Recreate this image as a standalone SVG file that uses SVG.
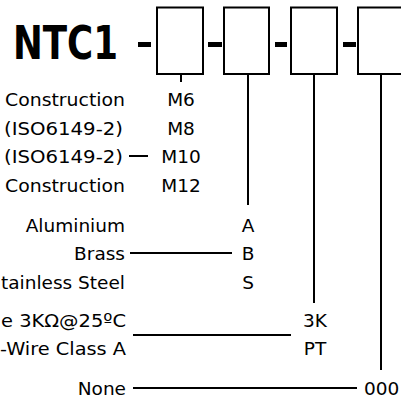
<svg xmlns="http://www.w3.org/2000/svg" width="401" height="403" viewBox="0 0 401 403">
<style>
.lbl{font-family:"DejaVu Sans","Verdana",sans-serif;font-size:18.5px;fill:#000}
.r{text-anchor:end}
.c{text-anchor:middle}
.box{fill:#fff;stroke:#000;stroke-width:2}
.ln{stroke:#000;stroke-width:2;fill:none}
</style>
<rect width="401" height="403" fill="#fff"/>
<g id="title">
<text x="13" y="59" font-family="DejaVu Sans, Verdana, sans-serif" font-weight="bold" font-size="46" textLength="105" lengthAdjust="spacingAndGlyphs">NTC1</text>
</g>
<g id="dashes">
<rect x="138" y="42" width="13" height="5"/>
<rect x="208" y="42" width="14" height="5"/>
<rect x="275" y="42" width="12" height="5"/>
<rect x="343" y="42" width="13" height="5"/>
</g>
<g id="box1"><rect class="box" x="157" y="7.5" width="46" height="66.5"/></g>
<g id="box2"><rect class="box" x="224" y="7.5" width="45" height="66.5"/></g>
<g id="box3"><rect class="box" x="291" y="7.5" width="46" height="66.5"/></g>
<g id="box4"><rect class="box" x="358" y="7.5" width="50" height="66.5"/></g>
<g id="connectors">
<line class="ln" x1="181" y1="74" x2="181" y2="82"/>
<line class="ln" x1="248" y1="74" x2="248" y2="205"/>
<line class="ln" x1="314" y1="74" x2="314" y2="303"/>
<line class="ln" x1="381" y1="74" x2="381" y2="370"/>
<line class="ln" x1="129" y1="156" x2="148" y2="156"/>
<line class="ln" x1="130" y1="253" x2="232" y2="253"/>
<line class="ln" x1="133" y1="335" x2="291" y2="335"/>
<line class="ln" x1="133" y1="388" x2="357" y2="388"/>
</g>
<g id="thread">
<text class="lbl r" x="125" y="106" textLength="120" lengthAdjust="spacingAndGlyphs">Construction</text>
<text class="lbl r" x="123" y="135" textLength="119" lengthAdjust="spacingAndGlyphs">(ISO6149-2)</text>
<text class="lbl r" x="123" y="163" textLength="119" lengthAdjust="spacingAndGlyphs">(ISO6149-2)</text>
<text class="lbl r" x="125" y="192" textLength="120" lengthAdjust="spacingAndGlyphs">Construction</text>
<text class="lbl c" x="181" y="106">M6</text>
<text class="lbl c" x="181" y="135">M8</text>
<text class="lbl c" x="181" y="163">M10</text>
<text class="lbl c" x="181" y="192">M12</text>
</g>
<g id="material">
<text class="lbl r" x="125" y="232">Aluminium</text>
<text class="lbl r" x="125" y="260">Brass</text>
<text class="lbl r" x="125" y="289">tainless Steel</text>
<text class="lbl c" x="248" y="232">A</text>
<text class="lbl c" x="248" y="260">B</text>
<text class="lbl c" x="248" y="289">S</text>
</g>
<g id="sensor">
<text class="lbl r" x="126" y="327" textLength="125" lengthAdjust="spacingAndGlyphs">e 3KΩ@25ºC</text>
<text class="lbl r" x="126" y="355" textLength="126" lengthAdjust="spacingAndGlyphs">-Wire Class A</text>
<text class="lbl c" x="315" y="327">3K</text>
<text class="lbl c" x="315" y="355">PT</text>
</g>
<g id="option">
<text class="lbl r" x="126" y="395">None</text>
<text class="lbl" x="364" y="395">000</text>
</g>
</svg>
